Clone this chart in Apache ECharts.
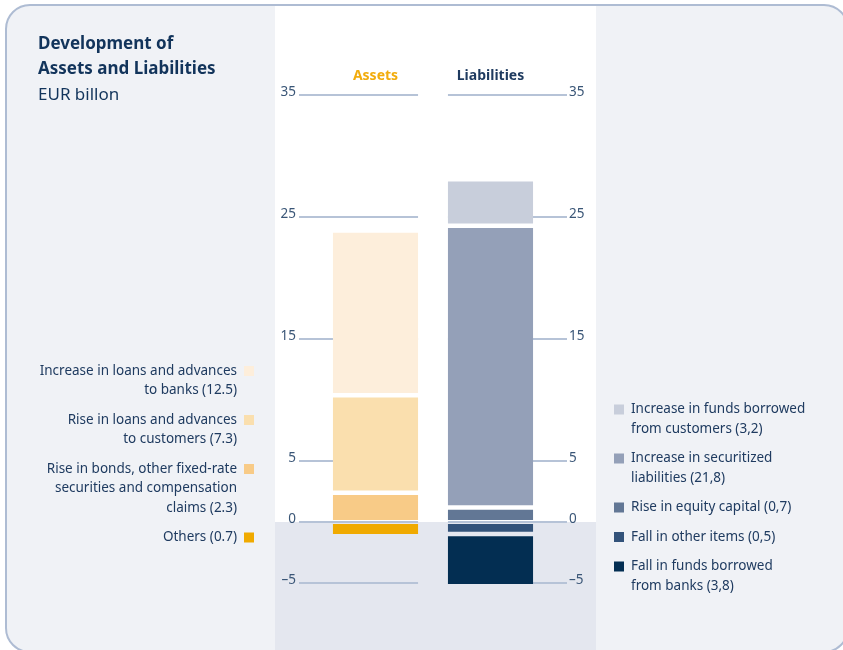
<!DOCTYPE html>
<html>
<head>
<meta charset="utf-8">
<script src="https://cdn.jsdelivr.net/npm/echarts@6/dist/echarts.min.js"></script>
<style>
html,body{margin:0;padding:0;background:#ffffff;}
#chart{width:843px;height:650px;}
</style>
</head>
<body>
<div id="chart"></div>
<script>
// ---------- data ----------
const categories = ['Assets', 'Liabilities'];
const titleLines = ['Development of', 'Assets and Liabilities'];
const subtitle = 'EUR billon';

// legend order (top to bottom); positive values stack upward from zero in reverse order
const assetLabels = [
  'Increase in loans and advances\nto banks (12.5)',
  'Rise in loans and advances\nto customers (7.3)',
  'Rise in bonds, other fixed-rate\nsecurities and compensation\nclaims (2.3)',
  'Others (0.7)'
];
const assetValues = [13.5, 8.0, 2.2, -1.0];

const liabilityLabels = [
  'Increase in funds borrowed\nfrom customers (3,2)',
  'Increase in securitized\nliabilities (21,8)',
  'Rise in equity capital (0,7)',
  'Fall in other items (0,5)',
  'Fall in funds borrowed\nfrom banks (3,8)'
];
const liabilityValues = [3.8, 23.1, 1.0, -0.8, -4.3];

const tickValues = [35, 25, 15, 5, 0, -5];

// ---------- styles ----------
const assetColors = ['#fdeedb', '#fadfae', '#f8cb87', '#f0aa00'];
const liabilityColors = ['#c8cedb', '#94a0b8', '#627795', '#33537a', '#032e52'];
const categoryColors = ['#f2ac0c', '#1e3a5f'];
const textColor = '#1f3b60';
const FONT = '"Noto Sans", sans-serif';

// ---------- stacking helper ----------
function buildSegments(catIndex, values) {
  const segs = [];
  let acc = 0, first = true;
  for (let i = values.length - 1; i >= 0; i--) {
    if (values[i] > 0) { segs[i] = [catIndex, acc, acc + values[i], first ? 1 : 0]; acc += values[i]; first = false; }
  }
  acc = 0; first = true;
  for (let i = 0; i < values.length; i++) {
    if (values[i] < 0) { segs[i] = [catIndex, acc, acc + values[i], first ? 1 : 0]; acc += values[i]; first = false; }
  }
  return segs;
}

const BAR_RATIO = 0.74;
function makeBarRender(color) {
  return function (params, api) {
    const cat = api.value(0), start = api.value(1), end = api.value(2), first = api.value(3);
    const cx = api.coord([cat, 0])[0];
    const halfW = api.size([1, 0])[0] * BAR_RATIO / 2;
    const ys = api.coord([cat, start])[1];
    const ye = api.coord([cat, end])[1];
    const gap = first ? 2 : 4.5;
    let top, bottom;
    if (end >= start) { top = ye; bottom = ys - gap; } else { top = ys + gap; bottom = ye; }
    return { type: 'rect', shape: { x: cx - halfW, y: top, width: halfW * 2, height: bottom - top }, style: { fill: color } };
  };
}

const series = [];
// lower background region (below zero) in the central column
series.push({
  type: 'custom', silent: true, z: 1,
  data: [[0, 0]],
  renderItem: function (params, api) {
    const y0 = api.coord([0, 0])[1];
    return { type: 'rect', shape: { x: 275, y: y0, width: 321, height: 660 - y0 }, style: { fill: '#e4e7ef' } };
  }
});
// tick lines
series.push({
  type: 'custom', silent: true, z: 2,
  data: tickValues.map(v => [0, v]),
  renderItem: function (params, api) {
    const cs = params.coordSys;
    const y = api.coord([0, api.value(1)])[1];
    const halfW = api.size([1, 0])[0] * BAR_RATIO / 2;
    const c0 = api.coord([0, 0])[0], c1 = api.coord([1, 0])[0];
    const st = { stroke: '#b6c3d7', lineWidth: 2 };
    return { type: 'group', children: [
      { type: 'line', shape: { x1: cs.x - 19, y1: y, x2: c0 + halfW, y2: y }, style: st },
      { type: 'line', shape: { x1: c1 - halfW, y1: y, x2: cs.x + cs.width + 19, y2: y }, style: st }
    ] };
  }
});
buildSegments(0, assetValues).forEach((seg, i) => {
  series.push({ type: 'custom', name: assetLabels[i], z: 3, data: [seg], renderItem: makeBarRender(assetColors[i]) });
});
buildSegments(1, liabilityValues).forEach((seg, i) => {
  series.push({ type: 'custom', name: liabilityLabels[i], z: 3, data: [seg], renderItem: makeBarRender(liabilityColors[i]) });
});

// ---------- graphics: panel, title, legends ----------
const graphics = [
  { type: 'rect', z: -10, silent: true, shape: { x: 6, y: 5, width: 842, height: 647, r: 24 }, style: { fill: '#f0f2f6' } },
  { type: 'rect', z: -9, silent: true, shape: { x: 275, y: 6, width: 321, height: 650 }, style: { fill: '#ffffff' } },
  { type: 'rect', z: 100, silent: true, shape: { x: 6, y: 5, width: 842, height: 647, r: 24 }, style: { fill: 'none', stroke: '#aebcd3', lineWidth: 2 } }
];
titleLines.forEach((t, i) => {
  graphics.push({ type: 'text', z: 50, style: { text: t, x: 38, y: 44 + i * 25.6, verticalAlign: 'middle', font: 'bold 17px ' + FONT, fill: '#12345b' } });
});
graphics.push({ type: 'text', z: 50, style: { text: subtitle, x: 38, y: 44 + 2 * 25.6, verticalAlign: 'middle', font: '17px ' + FONT, fill: '#12345b' } });

const LH = 19.5, LGAP = 10;
function addLegend(labels, colors, side, startTop) {
  let top = startTop;
  labels.forEach((lab, i) => {
    const n = lab.split('\n').length;
    const midFirst = top + LH / 2;
    if (side === 'left') {
      graphics.push({ type: 'text', z: 50, style: { text: lab, x: 237, y: top, align: 'right', verticalAlign: 'top', lineHeight: LH, font: '13.5px ' + FONT, fill: textColor } });
      graphics.push({ type: 'rect', z: 50, shape: { x: 244, y: midFirst - 5, width: 10, height: 10 }, style: { fill: colors[i] } });
    } else {
      graphics.push({ type: 'text', z: 50, style: { text: lab, x: 631, y: top, align: 'left', verticalAlign: 'top', lineHeight: LH, font: '13.5px ' + FONT, fill: textColor } });
      graphics.push({ type: 'rect', z: 50, shape: { x: 614, y: midFirst - 5, width: 10, height: 10 }, style: { fill: colors[i] } });
    }
    top += n * LH + LGAP;
  });
}
addLegend(assetLabels, assetColors, 'left', 361.25);
addLegend(liabilityLabels, liabilityColors, 'right', 399.75);

const yLabel = {
  fontFamily: FONT, fontSize: 13.5, color: '#3a5677',
  verticalAlign: 'bottom', lineHeight: 5,
  showMinLabel: true, showMaxLabel: true,
  formatter: v => tickValues.includes(v) ? String(v).replace('-', '–') : ''
};

const chart = echarts.init(document.getElementById('chart'), null, { renderer: 'canvas' });
chart.setOption({
  animation: false,
  backgroundColor: '#ffffff',
  graphic: { elements: graphics },
  grid: { left: 318, right: 295, top: 94.9, bottom: 67.1 },
  xAxis: {
    type: 'category', data: categories, position: 'top',
    axisLine: { show: false }, axisTick: { show: false },
    axisLabel: { margin: 12, fontFamily: FONT, fontSize: 14, fontWeight: 'bold', color: (v, i) => categoryColors[categories.indexOf(v)] }
  },
  yAxis: [
    { type: 'value', z: 10, min: -5, max: 35, interval: 5, position: 'left', axisLine: { show: false }, axisTick: { show: false }, splitLine: { show: false }, axisLabel: Object.assign({ margin: 22 }, yLabel) },
    { type: 'value', z: 10, min: -5, max: 35, interval: 5, position: 'right', axisLine: { show: false }, axisTick: { show: false }, splitLine: { show: false }, axisLabel: Object.assign({ margin: 21 }, yLabel) }
  ],
  series: series
});
</script>
</body>
</html>
